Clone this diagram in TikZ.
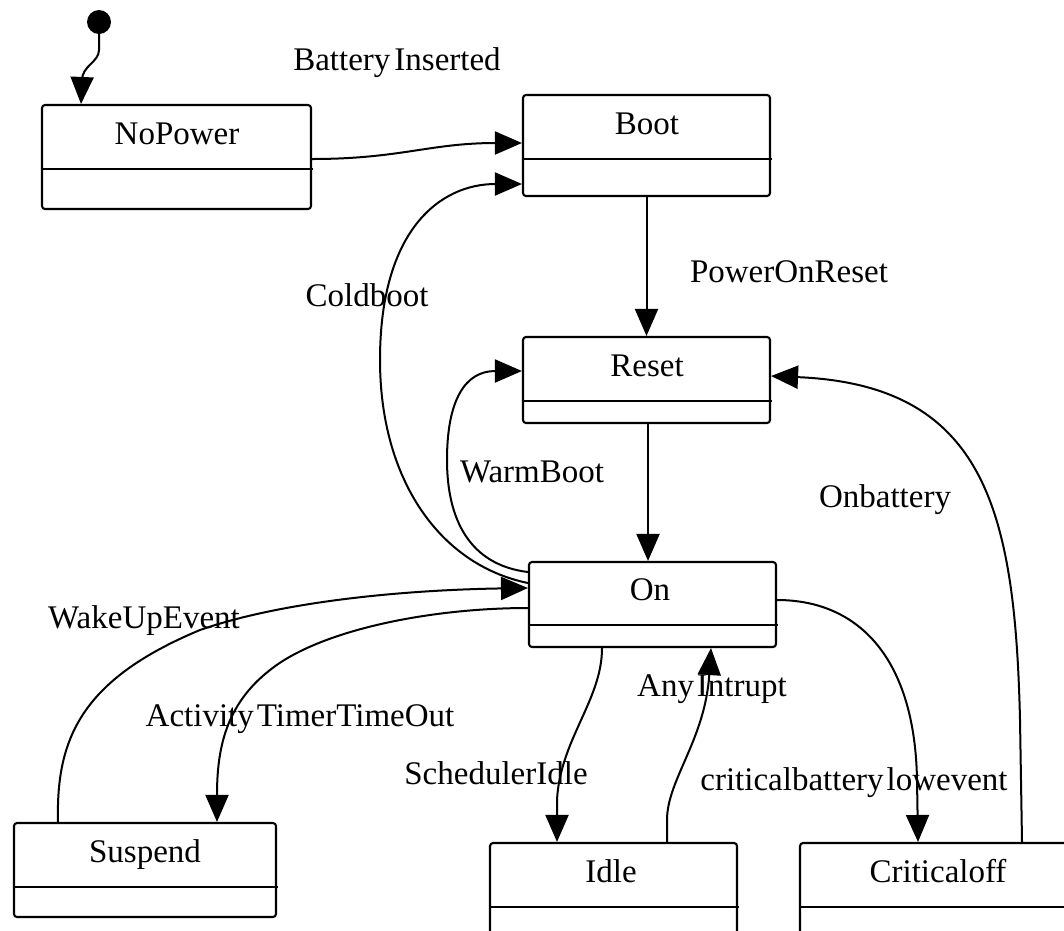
\documentclass[tikz,border=0pt]{standalone}
\usepackage{fontspec}
\setmainfont{Liberation Serif}
\usetikzlibrary{arrows.meta}
\begin{document}
\begin{tikzpicture}[x=1pt,y=-1pt,
  statebox/.style={draw, line width=2.1pt, rounded corners=3pt, inner sep=0pt},
  divider/.style={line width=2.1pt},
  conn/.style={line width=2pt, -{Triangle[length=27pt,width=23pt]}},
  lbl/.style={font=\fontsize{33}{38}\selectfont, inner sep=0pt, anchor=base},
  ]
\useasboundingbox (0,0) rectangle (1064,930);
\clip (0,0) rectangle (1064,930);
\fill[white] (0,0) rectangle (1064,930);

% initial state
\node[circle, fill=black, inner sep=0pt, minimum size=24pt] (init) at (99,22) {};

% states
\node[statebox, minimum width=269pt, minimum height=104pt] (np) at (176.5,157) {};
\node[statebox, minimum width=247pt, minimum height=101pt] (boot) at (646.5,145.5) {};
\node[statebox, minimum width=247pt, minimum height=86pt] (reset) at (646.5,380) {};
\node[statebox, minimum width=247pt, minimum height=85pt] (on) at (652.5,604.5) {};
\node[statebox, minimum width=262pt, minimum height=94pt] (susp) at (145,870) {};
\node[statebox, minimum width=247pt, minimum height=97pt] (idle) at (613.5,891.5) {};
\node[statebox, minimum width=275pt, minimum height=97pt] (crit) at (937.5,891.5) {};

% compartment dividers
\draw[divider] (np.west |- 0,169) -- ++(272,0);
\draw[divider] (boot.west |- 0,159) -- ++(250,0);
\draw[divider] (reset.west |- 0,401) -- ++(250,0);
\draw[divider] (on.west |- 0,625) -- ++(250,0);
\draw[divider] (susp.west |- 0,887) -- ++(265,0);
\draw[divider] (idle.west |- 0,907) -- ++(250,0);
\draw[divider] (crit.west |- 0,907) -- ++(278,0);

% state names
\node[lbl] (npT) at (177,144) {NoPower};
\node[lbl] (bootT) at (647,134) {Boot};
\node[lbl] (resetT) at (647,376) {Reset};
\node[lbl] (onT) at (650,600) {On};
\node[lbl] (suspT) at (145,862) {Suspend};
\node[lbl] (idleT) at (611,882) {Idle};
\node[lbl] (critT) at (938,882) {Criticaloff};

% transitions
\draw[conn] (init.south) -- (99,50) .. controls (99,62) and (82,66) .. (82,80) -- (np.north -| 81,0);
\draw[conn] (np.east |- 0,159) .. controls (400,159) and (430,143) .. (boot.west |- 0,143);
\draw[conn] (boot.south) -- (reset.north);
\draw[conn] (reset.south -| 648,0) -- (on.north -| 648,0);
% Coldboot
\draw[conn] (on.west |- 0,583) .. controls (440,565) and (380,480) .. (380,360)
  .. controls (380,230) and (440,184) .. (boot.west |- 0,184);
% WarmBoot
\draw[conn] (on.west |- 0,572) .. controls (470,565) and (447,520) .. (447,460)
  .. controls (447,400) and (465,371) .. (reset.west |- 0,371);
% WakeUpEvent
\draw[conn] (susp.north -| 58,0) .. controls (56,740) and (80,680) .. (200,630)
  .. controls (280,602) and (400,590) .. (on.west |- 0,588);
% ActivityTimerTimeOut
\draw[conn] (on.west |- 0,608) .. controls (430,608) and (320,630) .. (270,670)
  .. controls (225,705) and (217,750) .. (susp.north -| 217,0);
% SchedulerIdle
\draw[conn] (on.south -| 602,0) .. controls (602,700) and (560,740) .. (557,800) -- (idle.north -| 557,0);
% AnyIntrupt
\draw[conn] (idle.north -| 667,0) -- (667,820) .. controls (667,780) and (705,740) .. (on.south -| 711,0);
% criticalbatterylowevent
\draw[conn] (on.east |- 0,600) .. controls (860,600) and (915,660) .. (917,780) -- (crit.north -| 918,0);
% Onbattery
\draw[conn] (crit.north -| 1022,0) -- (1020,720) .. controls (1015,510) and (985,385) .. (reset.east |- 0,376);

% transition labels
\node[lbl] (lBat) at (397,70) {Battery\kern4pt Inserted};
\node[lbl] (lPor) at (789,282) {PowerOnReset};
\node[lbl] (lCold) at (367,306) {Coldboot};
\node[lbl] (lWarm) at (532,482) {WarmBoot};
\node[lbl] (lOnb) at (885,507) {Onbattery};
\node[lbl] (lWake) at (144,628) {WakeUpEvent};
\node[lbl] (lAct) at (300,726) {Activity\kern3pt TimerTimeOut};
\node[lbl] (lAny) at (712,696) {Any\kern3pt Intrupt};
\node[lbl] (lSch) at (496,784) {SchedulerIdle};
\node[lbl] (lCrit) at (854,790) {criticalbattery\kern3pt lowevent};
\end{tikzpicture}
\end{document}
